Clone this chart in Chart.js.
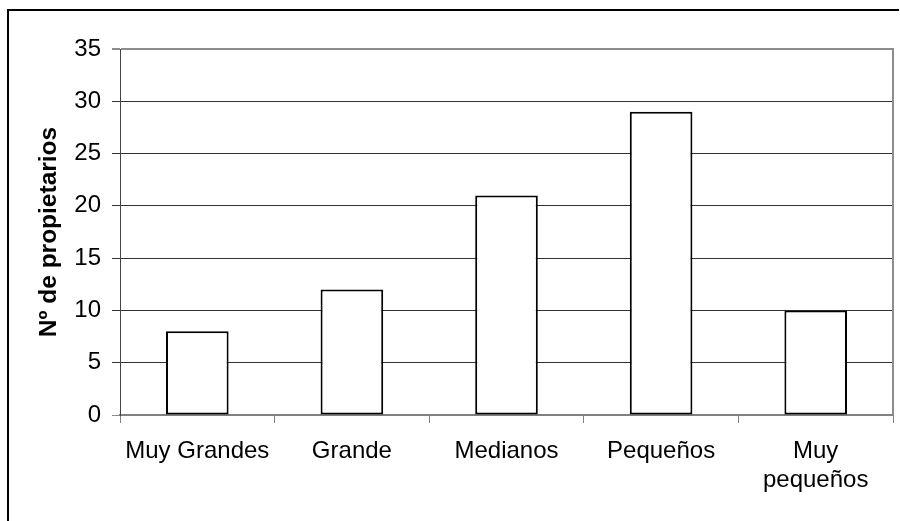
<!DOCTYPE html>
<html>
<head>
<meta charset="utf-8">
<script src="https://cdn.jsdelivr.net/npm/chart.js@4.4.1/dist/chart.umd.min.js"></script>
<style>
  body { margin: 0; background: #fff; }
  #wrap { width: 900px; height: 521px; position: relative; }
</style>
</head>
<body>
<div id="wrap"><canvas id="propChart" width="900" height="521"></canvas></div>
<script>
const categories = ["Muy Grandes", "Grande", "Medianos", "Pequeños", ["Muy", "pequeños"]];
const propietarios = [8, 12, 21, 29, 10];
const yTicks = { min: 0, max: 35, step: 5 };
const yTitle = "Nº de propietarios";

const FONT = "'Liberation Sans', Arial, sans-serif";

// outer frame of the original picture (cut off at right and bottom)
const framePlugin = {
  id: "frame",
  beforeDraw(chart) {
    const ctx = chart.ctx;
    ctx.save();
    ctx.fillStyle = "#fff";
    ctx.fillRect(0, 0, chart.width, chart.height);
    ctx.fillStyle = "#000";
    ctx.fillRect(7, 9, 2, chart.height);
    ctx.fillRect(7, 9, chart.width - 8, 2);
    ctx.restore();
  },
  afterDraw(chart) {
    const { ctx, chartArea } = chart;
    ctx.save();
    ctx.strokeStyle = "#8c8c8c";
    ctx.lineWidth = 2;
    ctx.beginPath();
    ctx.moveTo(chartArea.right, chartArea.top - 1);
    ctx.lineTo(chartArea.right, chartArea.bottom);
    ctx.stroke();
    ctx.restore();
  }
};

const ctx = document.getElementById("propChart").getContext("2d");

new Chart(ctx, {
  type: "bar",
  data: {
    labels: categories,
    datasets: [{
      data: propietarios,
      backgroundColor: "#fff",
      borderColor: "#000",
      borderWidth: 2,
      borderSkipped: false,
      categoryPercentage: 1,
      barPercentage: 0.405
    }]
  },
  options: {
    responsive: false,
    animation: false,
    layout: { padding: { left: 0, top: 49, right: 7, bottom: 0 } },
    plugins: {
      legend: { display: false },
      tooltip: { enabled: false }
    },
    scales: {
      x: {
        grid: {
          drawOnChartArea: false,
          drawTicks: true,
          tickLength: 8,
          color: "#808080",
          offset: true
        },
        border: { display: true, color: "#808080", width: 2 },
        ticks: {
          color: "#000",
          padding: 14,
          maxRotation: 0,
          autoSkip: false,
          font: { family: FONT, size: 24, lineHeight: 1.2 }
        },
        afterFit(scale) { scale.height = 106; }
      },
      y: {
        min: yTicks.min,
        max: yTicks.max,
        grid: {
          tickLength: 8,
          color: (c) => (c.tick && (c.tick.value === yTicks.max || c.tick.value === 0)) ? "#8c8c8c" : "#333",
          lineWidth: (c) => (c.tick && c.tick.value === yTicks.max) ? 2 : 1
        },
        border: { display: true, color: "#444", width: 1 },
        ticks: {
          stepSize: yTicks.step,
          color: "#000",
          padding: 11,
          font: { family: FONT, size: 24 }
        },
        title: {
          display: true,
          text: yTitle,
          color: "#000",
          padding: { top: 35, bottom: 0 },
          font: { family: FONT, size: 24.5, weight: "bold" }
        },
        afterFit(scale) { scale.width = 120; }
      }
    }
  },
  plugins: [framePlugin]
});
</script>
</body>
</html>
